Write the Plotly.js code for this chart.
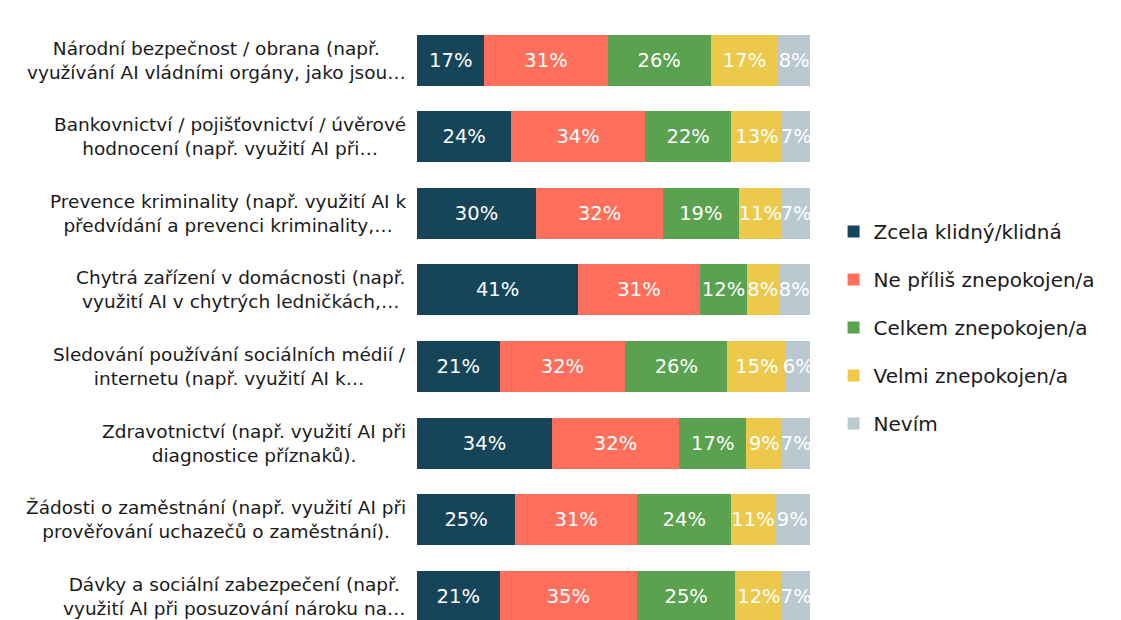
<!DOCTYPE html>
<html>
<head>
<meta charset="utf-8">
<script src="https://cdn.plot.ly/plotly-3.0.1.min.js"></script>
<style>html,body{margin:0;padding:0;background:#fff;}#chart{width:1121px;height:620px;}</style>
</head>
<body>
<div id="chart"></div>
<script>
const categories = [
  "Národní bezpečnost / obrana (např.<br>využívání AI vládními orgány, jako jsou…",
  "Bankovnictví / pojišťovnictví / úvěrové<br>hodnocení (např. využití AI při…",
  "Prevence kriminality (např. využití AI k<br>předvídání a prevenci kriminality,…",
  "Chytrá zařízení v domácnosti (např.<br>využití AI v chytrých ledničkách,…",
  "Sledování používání sociálních médií /<br>internetu (např. využití AI k…",
  "Zdravotnictví (např. využití AI při<br>diagnostice příznaků).",
  "Žádosti o zaměstnání (např. využití AI při<br>prověřování uchazečů o zaměstnání).",
  "Dávky a sociální zabezpečení (např.<br>využití AI při posuzování nároku na…"
];
const seriesNames = ["Zcela klidný/klidná", "Ne příliš znepokojen/a", "Celkem znepokojen/a", "Velmi znepokojen/a", "Nevím"];
const zcelaKlidny = [17, 24, 30, 41, 21, 34, 25, 21];
const nePrilis    = [31, 34, 32, 31, 32, 32, 31, 35];
const celkem      = [26, 22, 19, 12, 26, 17, 24, 25];
const velmi       = [17, 13, 11, 8, 15, 9, 11, 12];
const nevim       = [8, 7, 7, 8, 6, 7, 9, 7];
const colors = ["#16455A", "#FF6F5B", "#5AA150", "#ECC94B", "#BAC8CF"];

const FONT = "DejaVu Sans, Verdana, sans-serif";
const seriesValues = [zcelaKlidny, nePrilis, celkem, velmi, nevim];
const ids = categories.map((c, i) => "c" + i);

const traces = seriesValues.map((vals, k) => ({
  type: "bar",
  orientation: "h",
  name: seriesNames[k],
  legendgroup: "g" + k,
  y: ids,
  x: vals,
  text: vals.map(v => v + "%"),
  textposition: "inside",
  insidetextanchor: "middle",
  textangle: 0,
  constraintext: "none",
  cliponaxis: false,
  textfont: {family: FONT, size: 19.5, color: "#ffffff"},
  marker: {color: colors[k], line: {width: 0}},
  hoverinfo: "skip"
}));

const annotations = categories.map((c, i) => ({
  xref: "paper", yref: "y",
  x: 0, y: ids[i],
  xanchor: "right", yanchor: "middle",
  xshift: -9,
  align: "center",
  text: c,
  showarrow: false,
  font: {family: FONT, size: 18.5, color: "#1a1a1a"}
}));

const layout = {
  width: 1121, height: 620,
  margin: {l: 417, r: 311, t: 22, b: 0, pad: 0},
  paper_bgcolor: "#ffffff",
  plot_bgcolor: "#ffffff",
  barmode: "stack",
  barnorm: "percent",
  bargap: 0.334,
  uniformtext: {mode: "show", minsize: 19.5},
  xaxis: {range: [0, 100.0001], visible: false, fixedrange: true},
  yaxis: {type: "category", categoryorder: "array", categoryarray: ids,
          range: [7.31, -0.5], showticklabels: false, showgrid: false,
          zeroline: false, showline: false, ticks: ""},
  showlegend: true,
  legend: {
    x: 1.06, xanchor: "left", y: 0.489, yanchor: "middle",
    traceorder: "grouped", tracegroupgap: 19,
    font: {family: FONT, size: 20, color: "#1a1a1a"},
    bgcolor: "rgba(0,0,0,0)"
  },
  annotations: annotations
};

Plotly.newPlot("chart", traces, layout, {displayModeBar: false, staticPlot: true});
</script>
</body>
</html>
